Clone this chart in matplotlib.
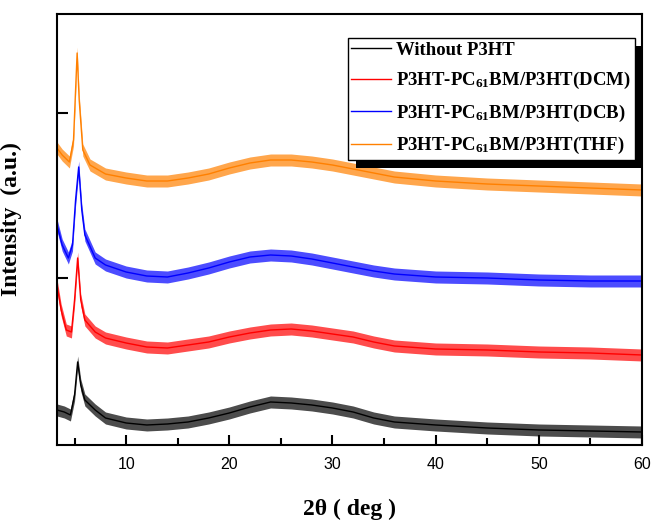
import numpy as np
import matplotlib
matplotlib.use("Agg")
import matplotlib.pyplot as plt
from matplotlib.patches import Rectangle

plt.rcParams['mathtext.fontset'] = 'custom'
plt.rcParams['mathtext.rm'] = 'Liberation Serif:bold'
plt.rcParams['mathtext.it'] = 'Liberation Serif:bold'
plt.rcParams['mathtext.bf'] = 'Liberation Serif:bold'

# 2theta (deg) sample points, per curve
x_black = [3.3, 4.0, 4.6, 5.0, 5.3, 5.6, 6.0, 7, 8, 10, 12, 14, 16, 18, 20, 22, 24, 26, 28, 30,
           32, 34, 36, 40, 45, 50, 55, 60]
y_black = [35, 33, 30, 50, 83, 60, 45, 35, 27, 22, 20, 21, 23, 27, 32, 38, 43, 42, 40, 37,
           33, 27, 23, 20, 17, 15, 14, 13]

x_red = [3.3, 3.7, 4.2, 4.7, 5.0, 5.3, 5.6, 6.0, 7, 8, 10, 12, 14, 16, 18, 20, 22, 24, 26, 28,
         30, 32, 34, 36, 40, 45, 50, 55, 60]
y_red = [160, 135, 115, 113, 145, 187, 145, 125, 113, 107, 102, 98, 97, 100, 103, 108, 112, 115,
         116, 114, 111, 108, 103, 99, 96, 95, 93, 92, 90]

x_blue = [3.3, 3.8, 4.4, 4.8, 5.1, 5.4, 5.7, 6.0, 7, 8, 10, 12, 14, 16, 18, 20, 22, 24, 26, 28,
          30, 32, 34, 36, 40, 45, 50, 55, 60]
y_blue = [220, 200, 187, 200, 245, 278, 235, 210, 187, 180, 173, 169, 168, 172, 177, 183, 188,
          190, 189, 186, 182, 178, 174, 171, 168, 167, 165, 164, 164]

x_orange = [3.3, 3.8, 4.5, 4.9, 5.1, 5.25, 5.45, 5.8, 6.5, 8, 10, 12, 14, 16, 18, 20, 22, 24, 26,
            28, 30, 32, 34, 36, 40, 45, 50, 55, 60]
y_orange = [297, 290, 283, 305, 355, 392, 345, 295, 280, 271, 267, 264, 264, 267, 271, 277, 282,
            285, 285, 283, 280, 276, 272, 268, 264, 261, 259, 257, 255]

# approximate half-width of the noise band on each trace
noise = [6, 6, 6, 6]

labels = ['Without P3HT',
          'P3HT-PC$_{61}$BM/P3HT(DCM)',
          'P3HT-PC$_{61}$BM/P3HT(DCB)',
          'P3HT-PC$_{61}$BM/P3HT(THF)']
colors = ['#000000', '#ff0000', '#0000ff', '#ff8000']
xs = [x_black, x_red, x_blue, x_orange]
ys = [y_black, y_red, y_blue, y_orange]

fig = plt.figure(figsize=(6.53, 5.21), dpi=100)
ax = fig.add_axes([0.0873, 0.1459, 0.8958, 0.8272])

for x, y, c, lab, n in zip(xs, ys, colors, labels, noise):
    x = np.array(x)
    y = np.array(y)
    ax.fill_between(x, y - n, y + n, color=c, alpha=0.7, lw=0)
    ax.plot(x, y, color=c, lw=1.0, label=lab)

ax.set_xlim(3.3, 60)
ax.set_ylim(0, 431)
ax.set_xticks([10, 20, 30, 40, 50, 60])
ax.set_xticks([5, 15, 25, 35, 45, 55], minor=True)
ax.set_yticks([167, 332])
ax.set_yticklabels([])
ax.tick_params(axis='x', which='major', direction='in', length=7, width=1.5,
               labelsize=11.5, pad=9)
ax.tick_params(axis='x', which='minor', direction='in', length=5, width=1.5)
ax.tick_params(axis='y', direction='in', length=8, width=1.5)
for lbl in ax.get_xticklabels():
    lbl.set_fontfamily('Liberation Sans')
for s in ax.spines.values():
    s.set_linewidth(1.5)

ax.set_xlabel('2θ ( deg )', fontfamily='Liberation Serif', fontweight='bold',
              fontsize=17)
ax.xaxis.set_label_coords(0.5, -0.125)
ax.set_ylabel('Intensity  (a.u.)', fontfamily='Liberation Serif', fontweight='bold',
              fontsize=17)
ax.yaxis.set_label_coords(-0.06, 0.525)

leg = ax.legend(loc='upper left', bbox_to_anchor=(0.497, 0.944), borderaxespad=0,
                prop={'family': 'Liberation Serif', 'weight': 'bold', 'size': 13.5},
                fancybox=False, edgecolor='black', framealpha=1,
                handlelength=2.1, handletextpad=0.3, labelspacing=0.6,
                borderpad=0.2)
leg.get_frame().set_linewidth(1.0)
leg.set_zorder(10)
for h in leg.get_lines():
    h.set_linewidth(1.0)

# black drop shadow behind the legend box, offset 8 px down-right of its frame
fig.canvas.draw()
bb = leg.get_frame().get_window_extent()
ax.add_artist(Rectangle((bb.x0 + 8, bb.y0 - 8), bb.width, bb.height,
                        transform=None, facecolor='black', edgecolor='black',
                        lw=0, zorder=9, clip_on=False))

fig.savefig('out.png', dpi=100)
